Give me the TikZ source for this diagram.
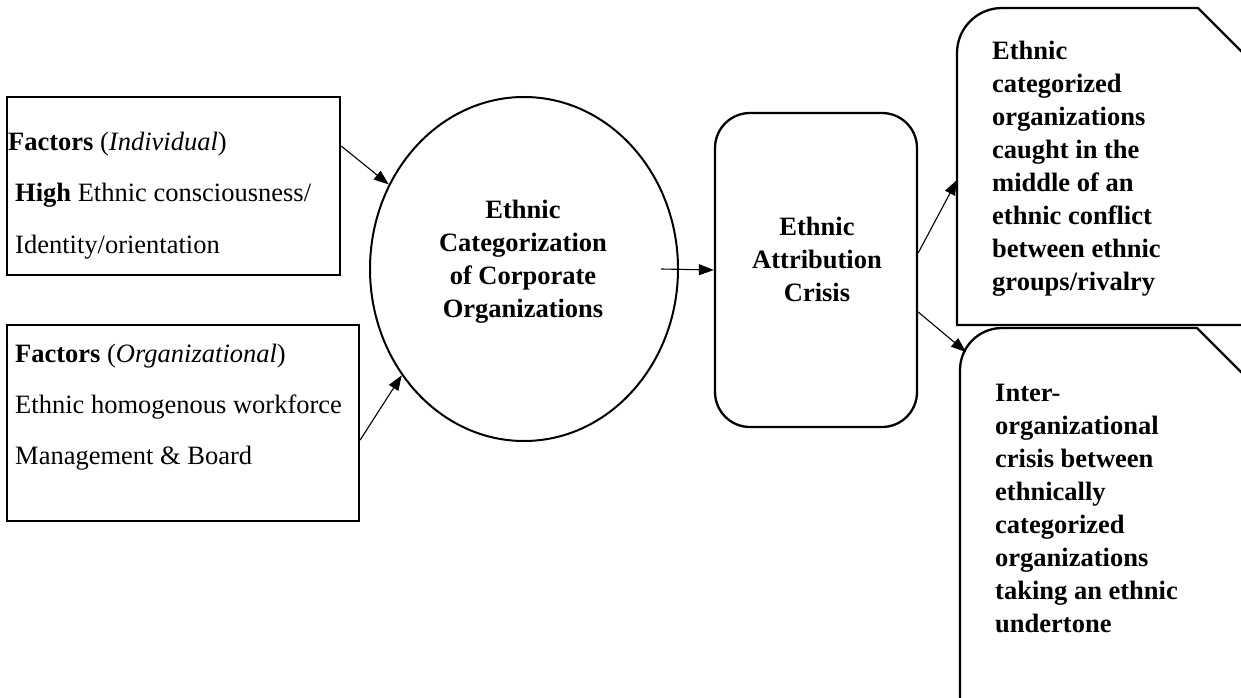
\documentclass[tikz,border=0pt]{standalone}
\usepackage{fontspec}
\setmainfont{Liberation Serif}
\usetikzlibrary{shapes.geometric,arrows.meta,calc}
\begin{document}
\begin{tikzpicture}[x=1pt,y=-1pt,
  frame/.style={draw,line width=2.3pt,inner sep=0pt},
  txt/.style={font=\fontsize{26.5}{33}\selectfont,inner sep=0pt},
  bftxt/.style={font=\fontsize{26.5}{33}\selectfont\bfseries,inner sep=0pt},
  arr/.style={-{Triangle[length=15pt,width=11pt]},line width=1.1pt}]
\useasboundingbox (0,0) rectangle (1241,698);
\clip (0,0) rectangle (1241,698);
% left boxes
\node[frame,minimum width=333pt,minimum height=178pt] (b1) at (173.5,186) {};
\node[txt,anchor=base west] (b1a) at (8,150) {\textbf{Factors} (\textit{Individual})};
\node[txt,anchor=base west] (b1b) at (15,201) {\textbf{High} Ethnic consciousness/};
\node[txt,anchor=base west] (b1c) at (15,253) {Identity/orientation};
\node[frame,minimum width=352pt,minimum height=196pt] (b2) at (183,423) {};
\node[txt,anchor=base west] (b2a) at (15,362) {\textbf{Factors} (\textit{Organizational})};
\node[txt,anchor=base west] (b2b) at (15,413) {Ethnic homogenous workforce};
\node[txt,anchor=base west] (b2c) at (15,464) {Management \& Board};
% ellipse
\node[draw,ellipse,line width=2pt,minimum width=308pt,minimum height=344pt,inner sep=0pt] (ell) at (524,269) {};
\node[bftxt,align=center,anchor=north] (ellt) at (523,200) {Ethnic\\Categorization\\of Corporate\\Organizations};
% rounded rectangle
\node[frame,rounded corners=35pt,minimum width=202pt,minimum height=314pt] (r) at (816,270) {};
\node[bftxt,align=center,anchor=north] (rt) at (817,217) {Ethnic\\Attribution\\Crisis};
% right shapes
\draw[line width=2.3pt] (1260,325) -- (957,325) -- (957,53) arc[start angle=180,end angle=270,radius=45] -- (1198,8) -- (1260,70);
\coordinate (s1in) at (957,180);
\node[bftxt,align=left,anchor=north west] (s1t) at (992,41) {Ethnic\\categorized\\organizations\\caught in the\\middle of an\\ethnic conflict\\between ethnic\\groups/rivalry};
\draw[line width=2.3pt] (960,720) -- (960,370) arc[start angle=180,end angle=270,radius=42] -- (1197,328) -- (1260,391);
\coordinate (s2in) at (966,352);
\node[bftxt,align=left,anchor=north west] (s2t) at (995,384) {Inter-\\organizational\\crisis between\\ethnically\\categorized\\organizations\\taking an ethnic\\undertone};
% connectors
\draw[arr] ([yshift=40pt]b1.east) -- (ell.148);
\draw[arr] ([yshift=-17pt]b2.east) -- (ell.221);
\draw[arr] ([xshift=-18pt]ell.east) -- (r.west);
\draw[arr] ([yshift=17pt]r.east) -- (s1in);
\draw[arr] ([yshift=-42pt]r.east) -- (s2in);
\end{tikzpicture}
\end{document}
